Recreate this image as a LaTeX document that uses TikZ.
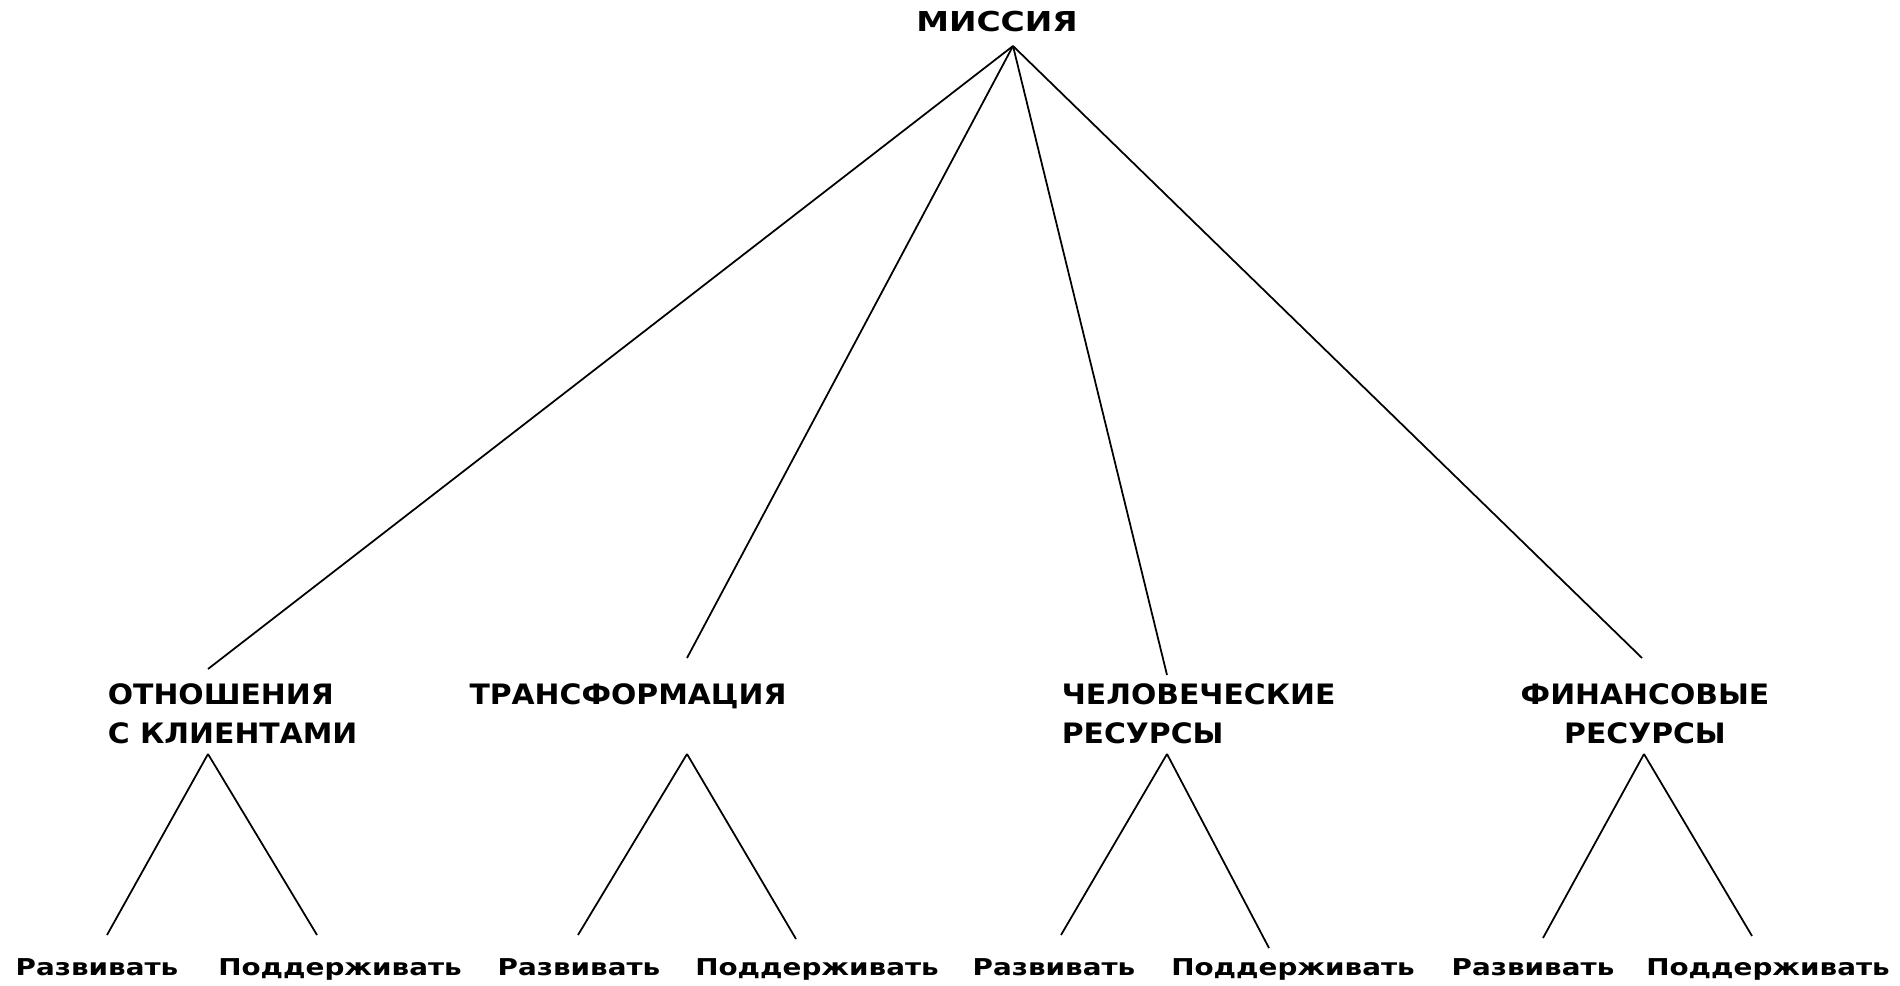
\documentclass[tikz,border=0pt]{standalone}
\usepackage{fontspec}
\setmainfont{DejaVu Sans}
\newfontfamily\headfont{DejaVu Sans}[FakeStretch=1.06]
\newfontfamily\widefont{DejaVu Sans}[FakeStretch=1.2]
\begin{document}
\begin{tikzpicture}[x=0.02cm,y=-0.02cm,line width=1pt,
        goal/.style={inner sep=0pt, font=\widefont\bfseries\fontsize{15.6}{18}\selectfont},
        branch/.style={inner sep=0pt, align=left, font=\headfont\bfseries\fontsize{16}{22.1}\selectfont},
        leaf/.style={inner sep=0pt, anchor=base, font=\widefont\bfseries\fontsize{13.2}{15}\selectfont}]
        \useasboundingbox (0,0) rectangle (1900,986);

        % mission
        \node (mission) [goal] at (997,22) {МИССИЯ};
        \coordinate (mission-foot) at (1013,46);

        % areas
        \node (clients) [branch, anchor=north west] at (107,683) {ОТНОШЕНИЯ\\С КЛИЕНТАМИ};
        \node (transform) [branch] at (628,696) {ТРАНСФОРМАЦИЯ};
        \node (people) [branch, anchor=north west] at (1061,683) {ЧЕЛОВЕЧЕСКИЕ\\РЕСУРСЫ};
        \node (finance) [branch, anchor=north, align=center] at (1645,683) {ФИНАНСОВЫЕ\\РЕСУРСЫ};

        \coordinate (clients-head) at (208,669);
        \coordinate (transform-head) at (687,658);
        \coordinate (people-head) at (1167,675);
        \coordinate (finance-head) at (1642,658);

        \draw (mission-foot) -- (clients-head);
        \draw (mission-foot) -- (transform-head);
        \draw (mission-foot) -- (people-head);
        \draw (mission-foot) -- (finance-head);

        % develop / maintain
        \node (clients-dev) [leaf] at (97,975) {Развивать};
        \node (clients-keep) [leaf] at (340,975) {Поддерживать};
        \node (transform-dev) [leaf] at (579,975) {Развивать};
        \node (transform-keep) [leaf] at (817,975) {Поддерживать};
        \node (people-dev) [leaf] at (1054,975) {Развивать};
        \node (people-keep) [leaf] at (1293,975) {Поддерживать};
        \node (finance-dev) [leaf] at (1533,975) {Развивать};
        \node (finance-keep) [leaf] at (1768,975) {Поддерживать};

        \coordinate (clients-foot) at (208,754);
        \coordinate (transform-foot) at (687,754);
        \coordinate (people-foot) at (1167,754);
        \coordinate (finance-foot) at (1644,754);

        \draw (clients-foot) -- (107,935);
        \draw (clients-foot) -- (317,935);
        \draw (transform-foot) -- (578,935);
        \draw (transform-foot) -- (796,939);
        \draw (people-foot) -- (1061,935);
        \draw (people-foot) -- (1269,948);
        \draw (finance-foot) -- (1543,938);
        \draw (finance-foot) -- (1752,936);
    \end{tikzpicture}
\end{document}
